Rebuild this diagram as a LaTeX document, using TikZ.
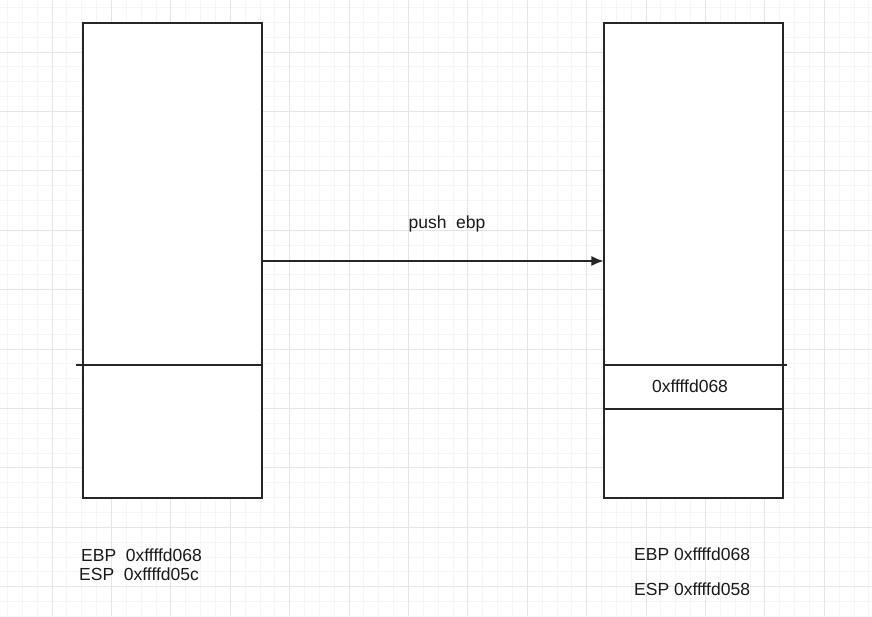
\documentclass[tikz,border=0pt]{standalone}
\usepackage{fontspec}
\setmainfont{Liberation Sans}
\usepackage{tikz}
\usetikzlibrary{arrows.meta}

\begin{document}
\begin{tikzpicture}[x=1pt, y=-1pt]
	\tikzstyle{every node} = [inner sep=0pt, font=\fontsize{17.5}{20}\selectfont, text=black!90]
	\tikzstyle{stackbox} = [draw=black!85, line width=1.2pt, fill=white, minimum width=179pt, minimum height=475pt]
	\tikzstyle{divider} = [draw=black!85, line width=1.2pt]
	\useasboundingbox (0,0) rectangle (872,616);
	\fill[white] (0,0) rectangle (872,616);
	% grid
	\foreach \i in {0,...,58} {
		\draw[black!4, line width=0.8pt] ({7.45+14.85*\i},0) -- ({7.45+14.85*\i},616);
	}
	\foreach \i in {0,...,41} {
		\draw[black!4, line width=0.8pt] (0,{7.45+14.85*\i}) -- (872,{7.45+14.85*\i});
	}
	\foreach \i in {0,...,14} {
		\draw[black!10, line width=0.9pt] ({52+59.4*\i},0) -- ({52+59.4*\i},616);
	}
	\foreach \i in {0,...,10} {
		\draw[black!10, line width=0.9pt] (0,{52+59.4*\i}) -- (872,{52+59.4*\i});
	}
	% stacks
	\node[stackbox] (lstack) at (172.5, 260.5) {};
	\node[stackbox] (rstack) at (693.5, 260.5) {};
	\draw[divider] (76,365) -- (262,365);
	\draw[divider] (604,365) -- (787,365);
	\draw[divider] (604,409) -- (783,409);
	\node (saved) at (690, 386) {0xffffd068};
	% push
	\draw[black!85, line width=1.2pt, -{Latex[length=12pt, width=10pt]}] ([yshift=-0.5pt]lstack.east) -- ([yshift=-0.5pt]rstack.west);
	\node[anchor=base] (push) at (447, 228) {push\ \ ebp};
	% registers
	\node[anchor=base west] (lebp) at (81, 561) {EBP\ \ 0xffffd068};
	\node[anchor=base west] (lesp) at (79, 580) {ESP\ \ 0xffffd05c};
	\node[anchor=base west] (rebp) at (634, 560) {EBP 0xffffd068};
	\node[anchor=base west] (resp) at (634, 595) {ESP 0xffffd058};
\end{tikzpicture}
\end{document}
